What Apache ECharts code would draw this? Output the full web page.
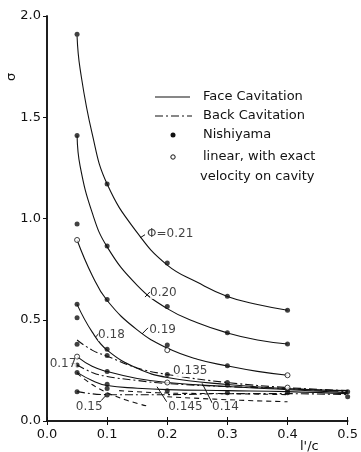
<!DOCTYPE html>
<html>
<head>
<meta charset="utf-8">
<script src="https://cdn.jsdelivr.net/npm/echarts@6/dist/echarts.min.js"></script>
<style>
  html, body { margin: 0; padding: 0; background: #fff; }
  #chart { width: 361px; height: 452px; }
</style>
</head>
<body>
<div id="chart"></div>
<script>
// face cavitation curves (solid)
const face021 = [[0.05, 1.9], [0.055, 1.74], [0.075, 1.42], [0.1, 1.17], [0.15, 0.93], [0.2, 0.77], [0.25, 0.685], [0.3, 0.615], [0.35, 0.575], [0.4, 0.547]];
const face020 = [[0.05, 1.41], [0.055, 1.26], [0.075, 1.03], [0.1, 0.86], [0.15, 0.67], [0.2, 0.555], [0.25, 0.485], [0.3, 0.435], [0.35, 0.4], [0.4, 0.38]];
const face019 = [[0.05, 0.894], [0.075, 0.72], [0.1, 0.595], [0.15, 0.45], [0.2, 0.36], [0.25, 0.305], [0.3, 0.272], [0.35, 0.245], [0.4, 0.226]];
const face018 = [[0.05, 0.576], [0.075, 0.44], [0.1, 0.35], [0.15, 0.26], [0.2, 0.215], [0.3, 0.18], [0.4, 0.16], [0.5, 0.15]];
const face017 = [[0.05, 0.318], [0.075, 0.27], [0.1, 0.244], [0.15, 0.21], [0.2, 0.19], [0.3, 0.17], [0.4, 0.155], [0.5, 0.14]];
const face015 = [[0.05, 0.24], [0.075, 0.2], [0.1, 0.175], [0.15, 0.162], [0.2, 0.155], [0.3, 0.15], [0.4, 0.145], [0.5, 0.135]];

// back cavitation curves (dash-dot)
const back135 = [[0.05, 0.40], [0.075, 0.35], [0.1, 0.32], [0.15, 0.262], [0.2, 0.23], [0.3, 0.19], [0.4, 0.165], [0.5, 0.15]];
const back17 = [[0.05, 0.277], [0.075, 0.24], [0.1, 0.22], [0.15, 0.2], [0.2, 0.185], [0.3, 0.17], [0.4, 0.16], [0.5, 0.145]];
const back14 = [[0.05, 0.145], [0.1, 0.13], [0.2, 0.13], [0.3, 0.135], [0.4, 0.135], [0.5, 0.13]];

// short-dashed curves
const dash15 = [[0.05, 0.235], [0.075, 0.18], [0.1, 0.14], [0.13, 0.105], [0.165, 0.075]];
const dash145 = [[0.12, 0.15], [0.2, 0.138], [0.3, 0.135], [0.4, 0.13]];
const dash14 = [[0.2, 0.12], [0.3, 0.105], [0.4, 0.095]];

// Nishiyama (filled) and linear theory (open) points
const nishiyama = [
  [0.05, 1.91], [0.05, 1.41], [0.05, 0.973], [0.05, 0.576], [0.05, 0.51], [0.05, 0.379], [0.05, 0.277], [0.05, 0.24], [0.05, 0.145],
  [0.1, 1.17], [0.1, 0.864], [0.1, 0.6], [0.1, 0.354], [0.1, 0.323], [0.1, 0.244], [0.1, 0.181], [0.1, 0.161], [0.1, 0.128],
  [0.2, 0.78], [0.2, 0.565], [0.2, 0.375], [0.2, 0.23], [0.2, 0.15],
  [0.3, 0.616], [0.3, 0.436], [0.3, 0.273], [0.3, 0.19], [0.3, 0.176], [0.3, 0.14],
  [0.4, 0.547], [0.4, 0.38], [0.4, 0.153], [0.4, 0.14],
  [0.5, 0.145], [0.5, 0.12]
];
const linearExact = [[0.05, 0.894], [0.05, 0.318], [0.2, 0.35], [0.2, 0.19], [0.4, 0.226], [0.4, 0.165]];

// curve labels: [x, y, text]
const curveLabels = [
  [0.1665, 0.923, 'Φ=0.21'], [0.1713, 0.632, '0.20'], [0.170, 0.449, '0.19'], [0.085, 0.425, '0.18'],
  [0.0044, 0.281, '0.17'], [0.048, 0.071, '0.15'], [0.2097, 0.247, '0.135'], [0.2016, 0.071, '0.145'], [0.2745, 0.071, '0.14']
];
const leaders = [
  [[0.155, 0.905], [0.163, 0.92]], [[0.163, 0.612], [0.171, 0.637]], [[0.158, 0.43], [0.168, 0.46]],
  [[0.081, 0.415], [0.087, 0.435]], [[0.04, 0.286], [0.05, 0.286]], [[0.085, 0.084], [0.097, 0.123]],
  [[0.199, 0.095], [0.183, 0.169]], [[0.275, 0.087], [0.258, 0.186]]
];

const xTicks = [0.0, 0.1, 0.2, 0.3, 0.4, 0.5];
const yTicks = [0.0, 0.5, 1.0, 1.5, 2.0];

const ink = '#111';
const font = 'DejaVu Sans';

function curve(data, type) {
  return {
    type: 'line', data: data, showSymbol: false, smooth: 0.45,
    lineStyle: { color: ink, width: 1.1, type: type }, silent: true, z: 2
  };
}

const series = [
  curve(face021, 'solid'), curve(face020, 'solid'), curve(face019, 'solid'),
  curve(face018, 'solid'), curve(face017, 'solid'), curve(face015, 'solid'),
  curve(back135, [8, 3, 2, 3]), curve(back17, [8, 3, 2, 3]), curve(back14, [8, 3, 2, 3]),
  curve(dash15, [5, 4]), curve(dash145, [5, 4]), curve(dash14, [5, 4]),
  {
    type: 'lines', coordinateSystem: 'cartesian2d', polyline: false, silent: true,
    data: leaders.map(c => ({ coords: c })),
    lineStyle: { color: ink, width: 1, opacity: 1 }, z: 3
  },
  {
    type: 'scatter', data: nishiyama, symbol: 'circle', symbolSize: 5,
    itemStyle: { color: ink }, z: 5
  },
  {
    type: 'scatter', data: linearExact, symbol: 'circle', symbolSize: 5,
    itemStyle: { color: '#fff', borderColor: ink, borderWidth: 1 }, z: 6
  },
  {
    type: 'scatter', symbolSize: 0, silent: true, z: 8,
    data: curveLabels.map(l => ({ value: [l[0], l[1]], name: l[2] })),
    label: {
      show: true, position: 'right', distance: 0, formatter: p => p.name,
      fontFamily: font, fontSize: 12, color: ink,
      backgroundColor: '#fff', padding: [0, 0, 0, 0]
    }
  }
];

const chart = echarts.init(document.getElementById('chart'), null, { renderer: 'canvas' });

const axisLine = { show: true, lineStyle: { color: ink, width: 1.5 } };

chart.setOption({
  animation: false,
  backgroundColor: '#fff',
  grid: { left: 47, right: 6, top: 16, bottom: 31 },
  xAxis: [
    {
      type: 'value', min: 0, max: 0.5, interval: 0.1, position: 'bottom',
      axisLine: axisLine, splitLine: { show: false },
      axisTick: { inside: true, length: 4, lineStyle: { color: ink } },
      axisLabel: {
        margin: 7, fontFamily: font, fontSize: 13, color: ink,
        formatter: v => xTicks.find(t => Math.abs(t - v) < 1e-6).toFixed(1)
      }
    },
    {
      type: 'value', min: 0, max: 0.5, interval: 0.1, position: 'top',
      axisLine: axisLine, splitLine: { show: false },
      axisTick: { inside: true, length: 4, lineStyle: { color: ink } },
      axisLabel: { show: false }
    }
  ],
  yAxis: [
    {
      type: 'value', min: 0, max: 2, interval: 0.5, position: 'left',
      axisLine: axisLine, splitLine: { show: false },
      axisTick: { inside: false, length: 3, lineStyle: { color: ink } },
      axisLabel: {
        margin: 6, fontFamily: font, fontSize: 13, color: ink,
        formatter: v => yTicks.find(t => Math.abs(t - v) < 1e-6).toFixed(1)
      }
    },
    {
      type: 'value', min: 0, max: 2, interval: 0.5, position: 'right',
      axisLine: axisLine, splitLine: { show: false },
      axisTick: { inside: true, length: 4, lineStyle: { color: ink } },
      axisLabel: { show: false }
    }
  ],
  series: series,
  graphic: [
    // axis names
    { type: 'text', x: 12, y: 77, rotation: Math.PI / 2,
      style: { text: 'σ', font: '13px "DejaVu Sans"', fill: ink, align: 'center', verticalAlign: 'middle' } },
    { type: 'text', x: 300, y: 447,
      style: { text: "l'/c", font: '13px "DejaVu Sans"', fill: ink, align: 'left', verticalAlign: 'middle' } },
    // legend
    { type: 'line', shape: { x1: 155, y1: 97, x2: 190, y2: 97 }, style: { stroke: ink, lineWidth: 1.2 } },
    { type: 'line', shape: { x1: 155, y1: 116, x2: 192, y2: 116 }, style: { stroke: ink, lineWidth: 1.2, lineDash: [8, 3, 2, 3] } },
    { type: 'circle', shape: { cx: 173, cy: 135, r: 2.5 }, style: { fill: ink } },
    { type: 'circle', shape: { cx: 173, cy: 157, r: 2.2 }, style: { fill: '#fff', stroke: ink, lineWidth: 1 } },
    { type: 'text', x: 203, y: 97, style: { text: 'Face Cavitation', font: '13px "DejaVu Sans"', fill: ink, verticalAlign: 'middle' } },
    { type: 'text', x: 203, y: 116, style: { text: 'Back Cavitation', font: '13px "DejaVu Sans"', fill: ink, verticalAlign: 'middle' } },
    { type: 'text', x: 203, y: 135, style: { text: 'Nishiyama', font: '13px "DejaVu Sans"', fill: ink, verticalAlign: 'middle' } },
    { type: 'text', x: 203, y: 157, style: { text: 'linear, with exact', font: '13px "DejaVu Sans"', fill: ink, verticalAlign: 'middle' } },
    { type: 'text', x: 200, y: 177, style: { text: 'velocity on cavity', font: '13px "DejaVu Sans"', fill: ink, verticalAlign: 'middle' } }
  ]
});
</script>
</body>
</html>
